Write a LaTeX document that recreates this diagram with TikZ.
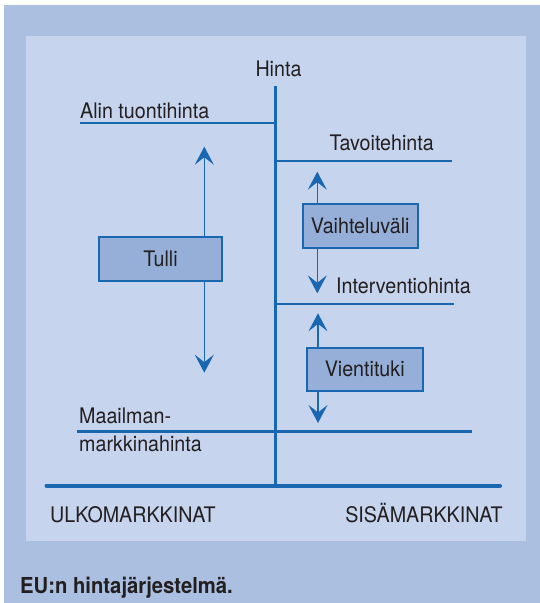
\documentclass[tikz,border=0pt]{standalone}
\usepackage{fontspec}
\setmainfont[FakeStretch=0.92]{TeX Gyre Heros}
\usetikzlibrary{arrows.meta}
\definecolor{outerbg}{HTML}{ABBFE0}
\definecolor{innerbg}{HTML}{C6D4EE}
\definecolor{lineblue}{HTML}{1A67B1}
\definecolor{boxfill}{HTML}{95AFD9}
\definecolor{txt}{HTML}{231F20}
\tikzset{
  lbl/.style={inner sep=0pt, text=txt, font=\fontsize{21.4}{25}\selectfont},
  pricebox/.style={draw=lineblue, line width=2pt, fill=boxfill, inner sep=0pt, text=txt, font=\fontsize{21.4}{25}\selectfont},
  priceline/.style={draw=lineblue, line width=2.8pt},
  axisline/.style={draw=lineblue, line width=3.6pt},
  arr/.style={draw=lineblue, line width=1.2pt, -{Stealth[length=18pt,width=19pt,inset=7.5pt,line width=1pt]}}
}
\begin{document}
\begin{tikzpicture}[x=1pt,y=-1pt]
\useasboundingbox (0,0) rectangle (540,603);
\fill[white] (0,0) rectangle (540,603);
\fill[outerbg] (4,5) rectangle (540,603);
\fill[innerbg] (26,36) rectangle (526,541);

% axes
\coordinate (axtop) at (275.5,86);
\coordinate (axbot) at (275.5,487);
\draw[axisline] (axtop) -- (axbot);
\coordinate (bl) at (46.5,485.7);
\coordinate (br) at (500,485.7);
\draw[axisline, line width=4pt, line cap=round] (bl) -- (br);

% price lines
\coordinate (alinL) at (80,123);
\coordinate (alinR) at (275.5,123);
\draw[priceline] (alinL) -- (alinR);
\coordinate (tavL) at (275.5,161);
\coordinate (tavR) at (452,161);
\draw[priceline] (tavL) -- (tavR);
\coordinate (intL) at (275.5,304);
\coordinate (intR) at (453.5,304);
\draw[priceline] (intL) -- (intR);
\coordinate (maaL) at (76.7,431.5);
\coordinate (maaR) at (472,431.5);
\draw[priceline] (maaL) -- (maaR);

% labels
\node[lbl, anchor=base] (hinta) at (278.5,76.4) {Hinta};
\node[lbl, anchor=base west] (alin) at (80,118.7) {Alin tuontihinta};
\node[lbl, anchor=base west] (tavo) at (329.3,150.7) {Tavoitehinta};
\node[lbl, anchor=base west] (inter) at (336,293) {Interventiohinta};
\node[lbl, anchor=base west] (maa1) at (79,423.3) {Maailman-};
\node[lbl, anchor=base west] (maa2) at (79,451.7) {markkinahinta};
\node[lbl, anchor=base west] (ulko) at (50,522) {ULKOMARKKINAT};
\node[lbl, anchor=base east] (sisa) at (502.8,522) {SISÄMARKKINAT};
\node[inner sep=0pt, text=txt, anchor=base west, font=\fontsize{22}{26}\selectfont\bfseries] (cap) at (20,593) {EU:n hintajärjestelmä.};

% boxes
\node[pricebox, minimum width=122.4pt, minimum height=44.3pt] (tulli) at (160.5,258.8) {Tulli};
\node[pricebox, minimum width=115pt, minimum height=44.3pt] (vaih) at (360.2,226.2) {Vaihteluväli};
\node[pricebox, minimum width=116pt, minimum height=43pt] (vien) at (364.7,369.2) {Vientituki};

% arrows
\coordinate (tT) at (204.3,146.7);
\coordinate (tB) at (204.3,372.7);
\draw[arr] (tulli.north -| tT) -- (tT);
\draw[arr] (tulli.south -| tB) -- (tB);
\coordinate (vT) at (317.3,171.7);
\coordinate (vB) at (317.3,293.3);
\draw[arr] (vaih.north -| vT) -- (vT);
\draw[arr] (vaih.south -| vB) -- (vB);
\coordinate (wT) at (318,313.3);
\coordinate (wB) at (318,423);
\draw[arr] (vien.north -| wT) -- (wT);
\draw[arr] (vien.south -| wB) -- (wB);
\end{tikzpicture}
\end{document}
